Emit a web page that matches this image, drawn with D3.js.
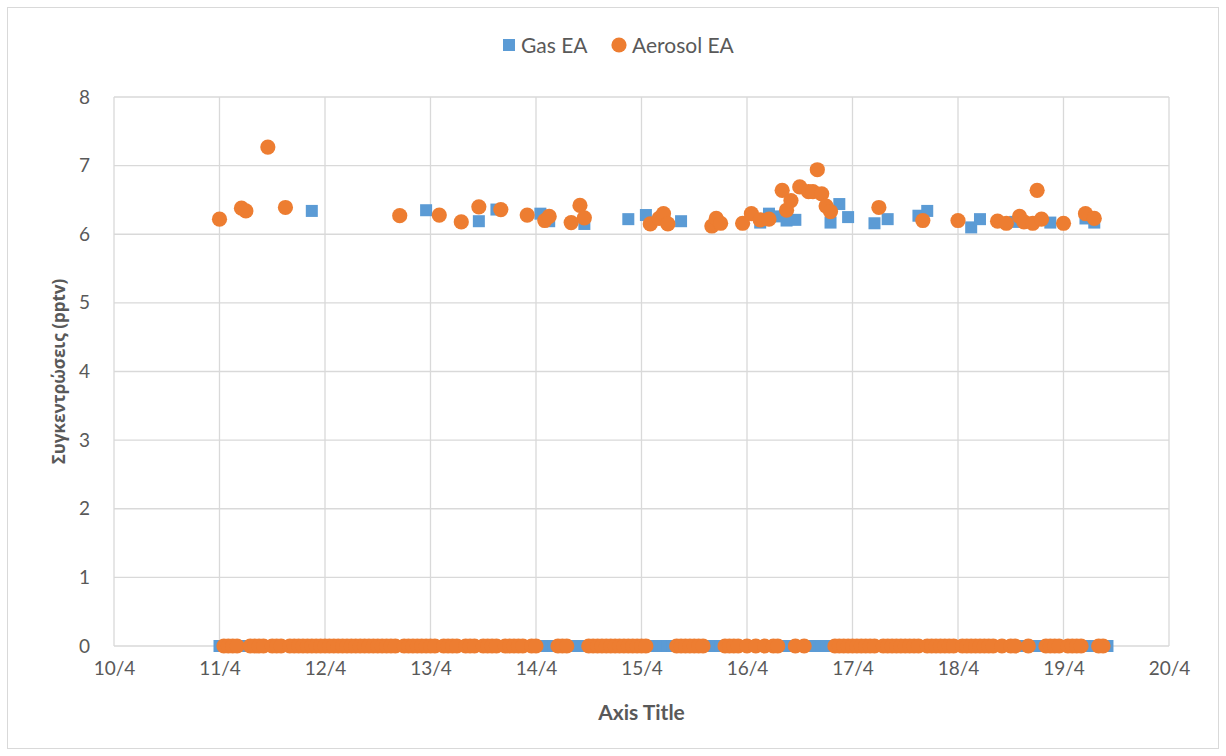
<!DOCTYPE html>
<html>
<head>
<meta charset="utf-8">
<script src="https://cdn.jsdelivr.net/npm/d3@7"></script>
<style>
  html, body { margin: 0; padding: 0; background: #ffffff; }
  svg { display: block; }
  text { font-family: Lato, "Open Sans", sans-serif; fill: #595959; }
</style>
</head>
<body>
<svg id="chart" width="1226" height="756"></svg>
<script>
// Hourly readings, hours counted from 11/4 00:00
const seriesStart = new Date(2019, 3, 11, 0, 0);

// Gas EA: hours with a reading above zero [hour, pptv]
const gasPeaks = [
  [21, 6.34], [47, 6.35], [59, 6.19], [63, 6.36], [73, 6.30], [75, 6.19],
  [83, 6.15], [93, 6.22], [97, 6.28], [105, 6.19], [123, 6.17], [125, 6.30],
  [127, 6.26], [129, 6.20], [131, 6.21], [139, 6.17], [141, 6.44], [143, 6.25],
  [149, 6.16], [152, 6.22], [159, 6.27], [161, 6.34], [171, 6.10], [173, 6.22],
  [181, 6.18], [189, 6.17], [197, 6.23], [199, 6.17]
];
// Gas EA: stretches of hourly zero readings [first hour, last hour]
const gasZeroRuns = [[0, 202]];

// Aerosol EA: hours with a reading above zero [hour, pptv]
const aerosolPeaks = [
  [0, 6.22], [5, 6.38], [6, 6.34], [11, 7.27], [15, 6.39], [41, 6.27],
  [50, 6.28], [55, 6.18], [59, 6.40], [64, 6.36], [70, 6.28], [74, 6.20],
  [75, 6.26], [80, 6.17], [82, 6.42], [83, 6.24], [98, 6.15], [100, 6.23],
  [101, 6.30], [102, 6.15], [112, 6.12], [113, 6.23], [114, 6.16], [119, 6.16],
  [121, 6.30], [123, 6.21], [125, 6.22], [128, 6.64], [129, 6.35], [130, 6.49],
  [132, 6.69], [134, 6.62], [135, 6.62], [136, 6.94], [137, 6.59], [138, 6.41],
  [139, 6.33], [150, 6.39], [160, 6.20], [168, 6.20], [177, 6.19], [179, 6.16],
  [182, 6.26], [183, 6.18], [185, 6.16], [186, 6.64], [187, 6.22], [192, 6.16],
  [197, 6.30], [199, 6.23]
];
// Aerosol EA: stretches of hourly zero readings [first hour, last hour]
const aerosolZeroRuns = [
  [1, 72], [77, 79], [84, 97], [104, 110], [115, 127], [131, 133],
  [140, 181], [184, 184], [188, 196], [200, 201]
];

const yTicks = [0, 1, 2, 3, 4, 5, 6, 7, 8];
const xDomain = [new Date(2019, 3, 10), new Date(2019, 3, 20)];
const seriesNames = ["Gas EA", "Aerosol EA"];
const seriesColors = ["#5B9BD5", "#ED7D31"];
const yTitle = "Συγκεντρώσεις (pptv)";
const xTitle = "Axis Title";

// Combine peaks with the hourly zero stretches into one time-ordered series
function buildSeries(peaks, zeroRuns) {
  const peakHours = new Set(peaks.map(p => p[0]));
  const pts = peaks.map(([h, v]) => ({ h, v }));
  zeroRuns.forEach(([a, b]) => {
    for (let h = a; h <= b; h++) if (!peakHours.has(h)) pts.push({ h, v: 0 });
  });
  pts.sort((p, q) => p.h - q.h);
  return pts.map(p => ({ t: d3.timeHour.offset(seriesStart, p.h), v: p.v }));
}
const gasData = buildSeries(gasPeaks, gasZeroRuns);
const aerosolData = buildSeries(aerosolPeaks, aerosolZeroRuns);

const svg = d3.select("#chart");
const W = 1226, H = 756;
const plot = { left: 114, right: 1169, top: 97, bottom: 646 };

// Chart frame
svg.append("rect")
  .attr("x", 7.5).attr("y", 7.5).attr("width", W - 15).attr("height", H - 15)
  .attr("fill", "#ffffff").attr("stroke", "#D9D9D9").attr("stroke-width", 1);

const x = d3.scaleTime().domain(xDomain).range([plot.left, plot.right]);
const y = d3.scaleLinear().domain([0, 8]).range([plot.bottom, plot.top]);

// Gridlines
const grid = svg.append("g").attr("stroke", "#D9D9D9").attr("stroke-width", 1.3);
grid.selectAll("line.h").data(yTicks).join("line")
  .attr("x1", plot.left).attr("x2", plot.right)
  .attr("y1", d => y(d)).attr("y2", d => y(d));
const dayTicks = d3.timeDay.range(xDomain[0], d3.timeDay.offset(xDomain[1], 1));
grid.selectAll("line.v").data(dayTicks).join("line")
  .attr("y1", plot.top).attr("y2", plot.bottom)
  .attr("x1", d => x(d)).attr("x2", d => x(d));

// Axes (labels only, lines come from the grid)
const yAxis = d3.axisLeft(y).tickValues(yTicks).tickSize(0).tickPadding(24);
const yG = svg.append("g").attr("transform", `translate(${plot.left},0)`).call(yAxis);
yG.select(".domain").remove();
yG.selectAll("text").style("font-size", "19px").attr("fill", "#595959");

const xAxis = d3.axisBottom(x).tickValues(dayTicks).tickSize(0).tickPadding(16)
  .tickFormat(d3.timeFormat("%-d/%-m"));
const xG = svg.append("g").attr("transform", `translate(0,${plot.bottom})`).call(xAxis);
xG.select(".domain").remove();
xG.selectAll("text").style("font-size", "19px").attr("fill", "#595959");

// Axis titles
svg.append("text")
  .attr("x", (plot.left + plot.right) / 2).attr("y", 720)
  .attr("text-anchor", "middle")
  .style("font-size", "21px").style("font-weight", "bold")
  .text(xTitle);
svg.append("text")
  .attr("transform", `translate(65,${(plot.top + plot.bottom) / 2}) rotate(-90)`)
  .attr("text-anchor", "middle")
  .style("font-family", "'Open Sans', sans-serif")
  .style("font-size", "17px").style("font-weight", "bold")
  .text(yTitle);

// Series markers: Gas as squares, Aerosol as circles drawn on top
const sq = 12;
svg.append("g").selectAll("rect").data(gasData).join("rect")
  .attr("x", d => x(d.t) - sq / 2).attr("y", d => y(d.v) - sq / 2)
  .attr("width", sq).attr("height", sq)
  .attr("fill", seriesColors[0]);
svg.append("g").selectAll("circle").data(aerosolData).join("circle")
  .attr("cx", d => x(d.t)).attr("cy", d => y(d.v)).attr("r", 7.6)
  .attr("fill", seriesColors[1]);

// Legend
const legend = svg.append("g");
legend.append("rect").attr("x", 503).attr("y", 39).attr("width", 12).attr("height", 12)
  .attr("fill", seriesColors[0]);
legend.append("text").attr("x", 521).attr("y", 52.5).style("font-size", "21px").text(seriesNames[0]);
legend.append("circle").attr("cx", 619).attr("cy", 45).attr("r", 7.6).attr("fill", seriesColors[1]);
legend.append("text").attr("x", 632).attr("y", 52.5).style("font-size", "21px").text(seriesNames[1]);
</script>
</body>
</html>
